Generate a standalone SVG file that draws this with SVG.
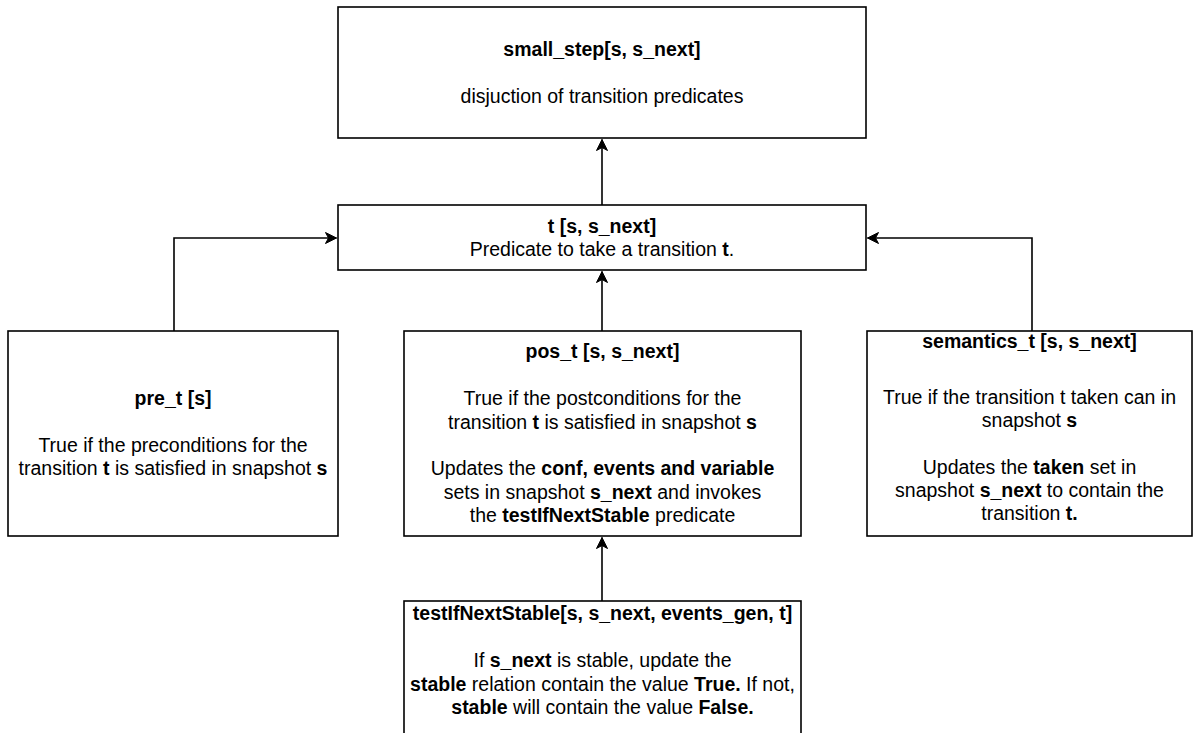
<svg xmlns="http://www.w3.org/2000/svg" width="1194" height="733" viewBox="0 0 1194 733">
<style>
.box{fill:#fff;stroke:#000;stroke-width:1.6}
.edge{fill:none;stroke:#000;stroke-width:1.6}
text{font-family:"Liberation Sans",Arial,sans-serif;font-size:19.5px;fill:#000;text-anchor:middle}
.b{font-weight:bold}
</style>
<defs>
<marker id="arr" markerUnits="userSpaceOnUse" markerWidth="16" markerHeight="16" viewBox="-12 -8 14 16" refX="0" refY="0" orient="auto">
<path d="M0,0 L-11,-5.5 L-8,0 L-11,5.5 Z" fill="#000" stroke="#000" stroke-width="1"/>
</marker>
</defs>
<rect width="1194" height="733" fill="#fff"/>
<g id="connectors">
<path class="edge" d="M602,205 L602,139.5" marker-end="url(#arr)"/>
<path class="edge" d="M602,331 L602,271.5" marker-end="url(#arr)"/>
<path class="edge" d="M602,601 L602,537.5" marker-end="url(#arr)"/>
<path class="edge" d="M174,331 L174,238 L336.5,238" marker-end="url(#arr)"/>
<path class="edge" d="M1032,331 L1032,238 L867.5,238" marker-end="url(#arr)"/>
</g>
<g id="small_step">
<rect class="box" x="338" y="7" width="528" height="131"/>
<text x="602" y="56" class="b">small_step[s, s_next]</text>
<text x="602" y="102.7">disjuction of transition predicates</text>
</g>
<g id="t">
<rect class="box" x="338" y="205" width="528" height="65"/>
<text x="602" y="232.6" class="b">t [s, s_next]</text>
<text x="602" y="256">Predicate to take a transition <tspan class="b">t</tspan>.</text>
</g>
<g id="pre_t">
<rect class="box" x="8" y="331" width="330" height="205"/>
<text x="173" y="405.2" class="b">pre_t [s]</text>
<text x="173" y="452">True if the preconditions for the</text>
<text x="173" y="475.4">transition <tspan class="b">t</tspan> is satisfied in snapshot <tspan class="b">s</tspan></text>
</g>
<g id="pos_t">
<rect class="box" x="404" y="331" width="397" height="205"/>
<text x="602.5" y="358.4" class="b">pos_t [s, s_next]</text>
<text x="602.5" y="405.2">True if the postconditions for the</text>
<text x="602.5" y="428.6">transition <tspan class="b">t</tspan> is satisfied in snapshot <tspan class="b">s</tspan></text>
<text x="602.5" y="475.4">Updates the <tspan class="b">conf, events and variable</tspan></text>
<text x="602.5" y="498.8">sets in snapshot <tspan class="b">s_next</tspan> and invokes</text>
<text x="602.5" y="522.2">the <tspan class="b">testIfNextStable</tspan> predicate</text>
</g>
<g id="semantics_t">
<rect class="box" x="867" y="331" width="325" height="205"/>
<text x="1029.5" y="348" class="b">semantics_t [s, s_next]</text>
<text x="1029.5" y="404">True if the transition t taken can in</text>
<text x="1029.5" y="427.4">snapshot <tspan class="b">s</tspan></text>
<text x="1029.5" y="473.5">Updates the <tspan class="b">taken</tspan> set in</text>
<text x="1029.5" y="496.9">snapshot <tspan class="b">s_next</tspan> to contain the</text>
<text x="1029.5" y="520.3">transition <tspan class="b">t.</tspan></text>
</g>
<g id="testIfNextStable">
<rect class="box" x="404" y="601" width="397" height="140"/>
<text x="602.5" y="620" class="b">testIfNextStable[s, s_next, events_gen, t]</text>
<text x="602.5" y="667">If <tspan class="b">s_next</tspan> is stable, update the</text>
<text x="602.5" y="690.5"><tspan class="b">stable</tspan> relation contain the value <tspan class="b">True.</tspan> If not,</text>
<text x="602.5" y="714"><tspan class="b">stable</tspan> will contain the value <tspan class="b">False.</tspan></text>
</g>
</svg>
